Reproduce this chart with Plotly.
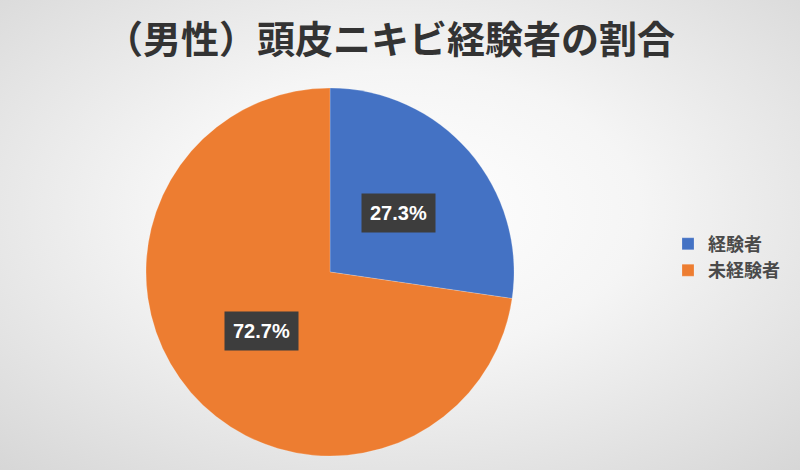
import math
import plotly.graph_objects as go

title = "（男性）頭皮ニキビ経験者の割合"
categories = ["経験者", "未経験者"]
values = [27.3, 72.7]
colors = ["#4472C4", "#ED7D31"]

W, H = 800, 470
cx, cy, R = 330, 272, 184

bg_svg = (
    "data:image/svg+xml;utf8,"
    "<svg xmlns='http://www.w3.org/2000/svg' width='800' height='470'>"
    "<defs><radialGradient id='g' cx='0.5' cy='0.45' r='0.75'>"
    "<stop offset='0' stop-color='%23ffffff'/>"
    "<stop offset='0.4' stop-color='%23f5f5f5'/>"
    "<stop offset='1' stop-color='%23d6d6d6'/>"
    "</radialGradient></defs>"
    "<rect width='800' height='470' fill='url(%23g)'/></svg>"
)

fig = go.Figure(
    go.Pie(
        labels=[f"<b>{c}</b>" for c in categories],
        values=values,
        marker=dict(colors=colors, line=dict(color="rgba(255,255,255,0.4)", width=0.5)),
        sort=False,
        direction="clockwise",
        rotation=0,
        textinfo="none",
        hoverinfo="label+percent",
        domain=dict(x=[(cx - R) / W, (cx + R) / W], y=[(H - cy - R) / H, (H - cy + R) / H]),
    )
)

total = sum(values)
cum = 0.0
for v in values:
    mid = (cum + v / 2) / total * 2 * math.pi
    cum += v
    r = 0.49 * R
    px = cx + r * math.sin(mid)
    py = cy - r * math.cos(mid)
    fig.add_annotation(
        x=px / W, y=1 - py / H, xref="paper", yref="paper",
        xanchor="center", yanchor="middle",
        text=f"<b>{v:.1f}%</b>", showarrow=False,
        font=dict(family="Liberation Sans Narrow, Liberation Sans, Arial, sans-serif", size=20, color="white"),
        bgcolor="#3d3d3d", borderpad=8,
    )

fig.update_layout(
    width=W, height=H,
    margin=dict(l=0, r=0, t=0, b=0),
    paper_bgcolor="#ececec",
    plot_bgcolor="rgba(0,0,0,0)",
    title=dict(
        text=f"<b>{title}</b>",
        x=0.4875, xanchor="center", y=0.915, yanchor="middle",
        font=dict(family="Noto Sans CJK JP", size=38, color="#333333"),
    ),
    legend=dict(
        x=0.835, y=0.453, xanchor="left", yanchor="middle",
        font=dict(family="Noto Sans CJK JP", size=18, color="#4a4a4a"),
        bgcolor="rgba(0,0,0,0)", itemwidth=30,
    ),
    images=[dict(source=bg_svg, xref="paper", yref="paper", x=0, y=1,
                 sizex=1, sizey=1, xanchor="left", yanchor="top",
                 sizing="stretch", layer="below")],
)

fig.write_html(
    "out.html",
    config={"displayModeBar": False},
    post_script="document.body.style.margin='0';document.body.style.overflow='hidden';",
)
